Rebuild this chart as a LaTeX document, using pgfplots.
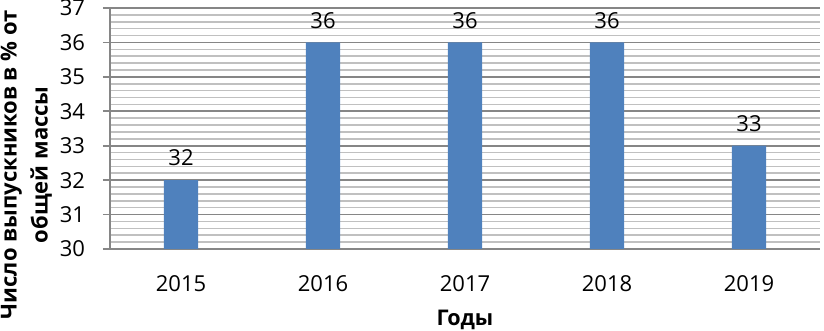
\documentclass[border=0pt]{standalone}
\usepackage{pgfplots}
\pgfplotsset{compat=1.18}
\usepackage{fontspec}
\setmainfont{Open Sans}
\definecolor{barblue}{HTML}{4F81BD}
\definecolor{majgrid}{HTML}{868686}
\definecolor{mingrid}{HTML}{C0C0C0}
\begin{document}
\begin{tikzpicture}
\begin{axis}[
  scale only axis,
  width=355pt, height=120.5pt,
  xmin=-0.5, xmax=4.5,
  ymin=30, ymax=37,
  ytick={30,31,...,37},
  minor y tick num=4,
  xtick={0,1,2,3,4},
  xticklabels={2015,2016,2017,2018,2019},
  axis x line*=bottom,
  axis y line*=left,
  axis line style={majgrid, line width=0.8pt},
  ymajorgrids, yminorgrids,
  major grid style={majgrid, line width=0.8pt},
  minor grid style={mingrid, line width=0.8pt},
  x tick style={draw=none},
  y tick style={majgrid, line width=0.8pt},
  minor y tick style={draw=none},
  tick align=outside,
  major tick length=3.5pt,
  /pgf/number format/assume math mode=true,
  tick label style={font=\fontsize{11}{13}\selectfont, text=black},
  y tick label style={xshift=-5.5pt},
  x tick label style={yshift=-6pt},
  xlabel={\textbf{Годы}},
  xlabel style={font=\fontsize{10.8}{13}\selectfont, at={(axis description cs:0.5,0)}, anchor=center, yshift=-35.5pt},
  ylabel={\textbf{Число выпускников в \% от}\\\textbf{общей массы}},
  ylabel style={font=\fontsize{11}{15.5}\selectfont, align=center, at={(axis description cs:-0.118,0.35)}, anchor=center, rotate=0},
  nodes near coords,
  every node near coord/.append style={font=\fontsize{11}{13}\selectfont, text=black, yshift=3.5pt},
  point meta=explicit symbolic,
]
\addplot[ybar, bar width=0.24, fill=barblue, draw=none] coordinates {
  (0,32) [32]
  (1,36) [36]
  (2,36) [36]
  (3,36) [36]
  (4,33) [33]
};
\end{axis}
\pgfresetboundingbox
\path (-55pt,-41pt) rectangle (357pt,124.5pt);
\end{tikzpicture}
\end{document}
